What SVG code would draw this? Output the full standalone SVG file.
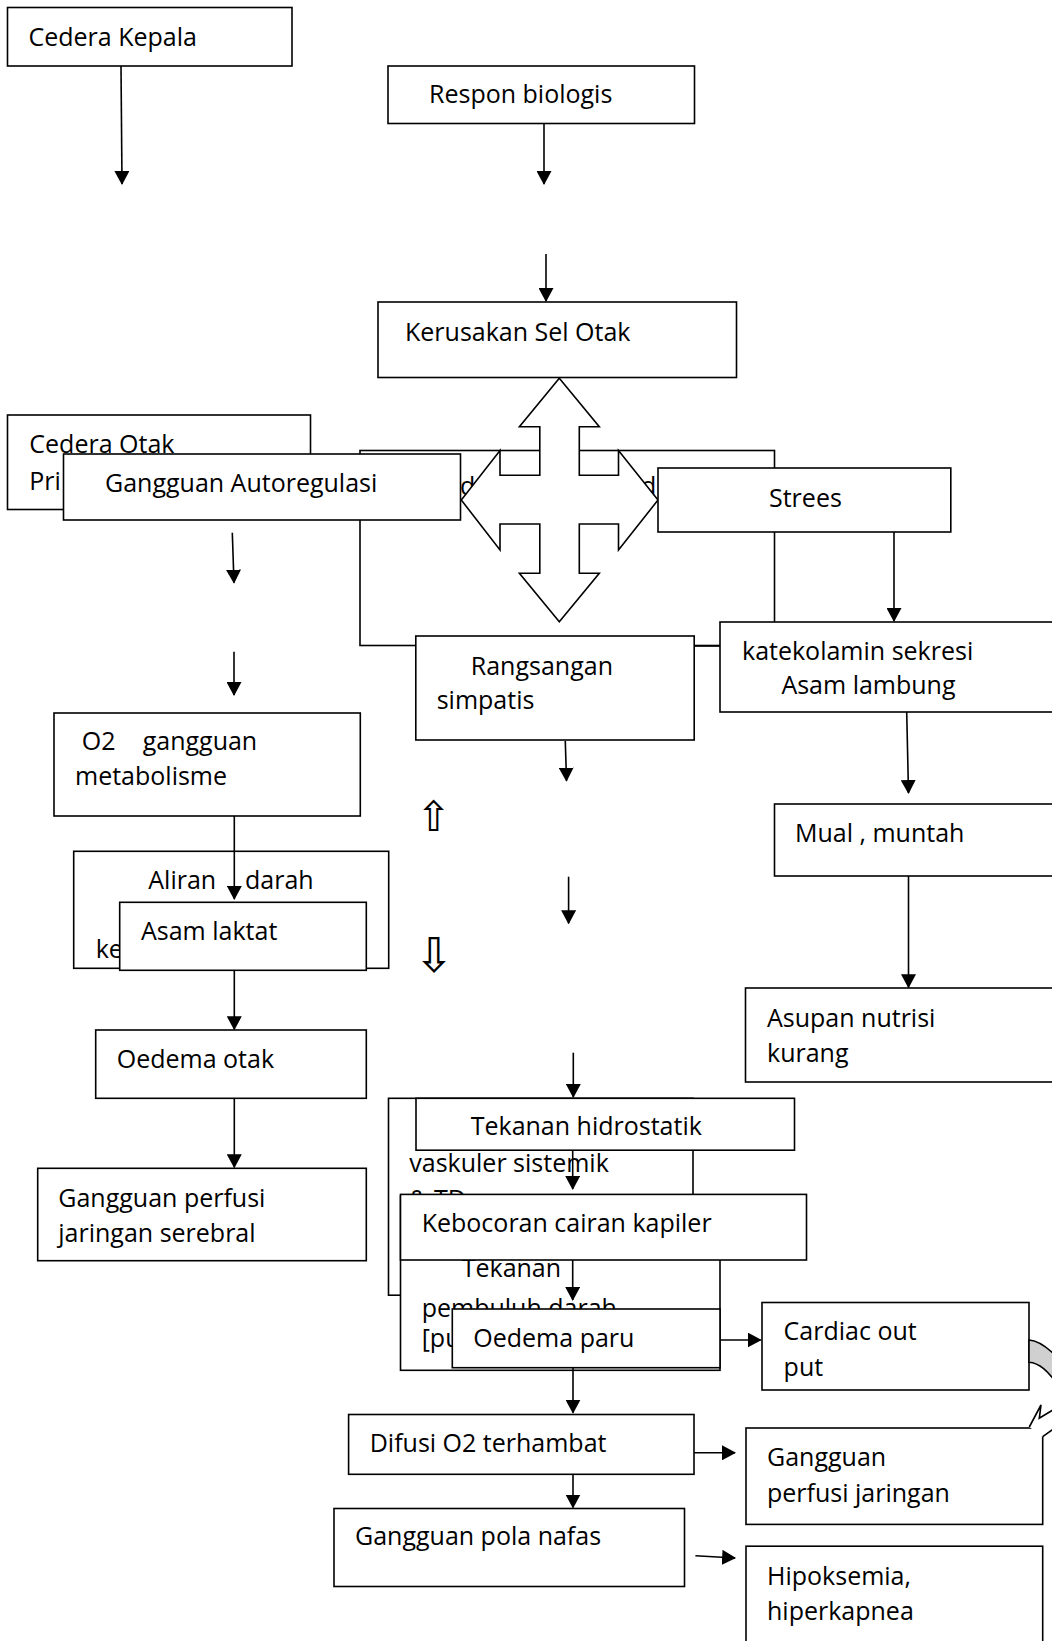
<svg xmlns="http://www.w3.org/2000/svg" width="1052" height="1641" viewBox="0 0 1052 1641">
<style>
.box{fill:#fff;stroke:#000;stroke-width:1.6}
.t{font-family:"Open Sans","Liberation Sans",sans-serif;font-size:25px;fill:#000}
.sym{font-family:"DejaVu Sans",sans-serif;fill:#000}
.c line{stroke:#000;stroke-width:1.6;marker-end:url(#ah)}
</style>
<defs>
<marker id="ah" markerUnits="userSpaceOnUse" markerWidth="14" markerHeight="15" refX="13" refY="7.5" orient="auto" viewBox="0 0 14 15">
<path d="M0,0 L14,7.5 L0,15 z" fill="#000"/>
</marker>
</defs>
<rect width="1052" height="1641" fill="#fff"/>

<g id="cedera-kepala"><rect class="box" x="7.5" y="7.5" width="284.5" height="58.5"/><text class="t" x="28.5" y="46">Cedera Kepala</text></g>
<g id="respon-biologis"><rect class="box" x="388" y="66" width="306.5" height="57.5"/><text class="t" x="429" y="103">Respon biologis</text></g>
<g id="kerusakan-sel-otak"><rect class="box" x="378" y="302" width="358.5" height="75.5"/><text class="t" x="405" y="341">Kerusakan Sel Otak</text></g>

<g id="hidden-box"><rect class="box" x="360" y="450.5" width="414.5" height="195"/>
<text class="t" y="495"><tspan x="460">de</tspan><tspan x="533">l</tspan><tspan x="602">l</tspan><tspan x="641">d</tspan></text></g>
<g id="cedera-otak-primer"><rect class="box" x="7.5" y="415" width="303" height="94.5"/><text class="t" x="29.3" y="453"><tspan x="29.3">Cedera Otak</tspan><tspan x="29.3" y="490">Pri</tspan></text></g>
<g id="gangguan-autoregulasi"><rect class="box" x="63.5" y="454" width="397" height="66"/><text class="t" x="105" y="492.3">Gangguan Autoregulasi</text></g>
<g id="cross-arrow"><polygon class="box" points="559.3,378.3 599.3,426.7 579.3,426.7 579.3,475.3 618.5,475.3 618.5,450.5 658,500 618.5,550 618.5,524 579.3,524 579.3,573.3 599.3,573.3 559.3,621.7 519.4,573.3 539.8,573.3 539.8,524 500,524 500,550 461.3,500 500,450.5 500,475.3 539.8,475.3 539.8,426.7 519.4,426.7"/></g>
<g id="strees"><rect class="box" x="658" y="468" width="292.8" height="64"/><text class="t" x="769" y="506.7">Strees</text></g>
<g id="rangsangan-simpatis"><rect class="box" x="415.8" y="636" width="278.4" height="104"/><text class="t"><tspan x="470.8" y="675">Rangsangan</tspan><tspan x="436.7" y="709.3">simpatis</tspan></text></g>
<g id="katekolamin"><line x1="694" y1="646" x2="720" y2="646" stroke="#000" stroke-width="1.6"/><rect class="box" x="720" y="622" width="345" height="90"/><text class="t"><tspan x="742" y="660">katekolamin sekresi</tspan><tspan x="781.4" y="694.3">Asam lambung</tspan></text></g>

<g id="o2-metabolisme"><rect class="box" x="54" y="713" width="306.3" height="103"/><text class="t"><tspan x="81.7" y="750">O2</tspan><tspan x="142.7" y="750">gangguan</tspan><tspan x="75" y="785">metabolisme</tspan></text></g>
<g id="aliran-darah"><rect class="box" x="73.7" y="851.3" width="315" height="117"/><text class="t"><tspan x="148.3" y="889.3">Aliran</tspan><tspan x="245" y="889.3">darah</tspan><tspan x="95.7" y="958.3">ke</tspan></text></g>
<g id="asam-laktat"><rect class="box" x="119.7" y="902.3" width="246.6" height="68"/><text class="t" x="141" y="940">Asam laktat</text></g>
<g id="oedema-otak"><rect class="box" x="95.7" y="1030" width="270.6" height="68.3"/><text class="t" x="116.7" y="1068.3">Oedema otak</text></g>
<g id="perfusi-serebral"><rect class="box" x="37.7" y="1168.3" width="328.6" height="92.4"/><text class="t"><tspan x="58.3" y="1206.7">Gangguan perfusi</tspan><tspan x="58.3" y="1241.7">jaringan serebral</tspan></text></g>

<g id="up-down-symbols"><text class="sym" font-size="42" x="416" y="831">⇧</text><text class="sym" font-size="48" x="414" y="972">⇩</text></g>

<g id="mual-muntah"><rect class="box" x="774.5" y="804" width="290" height="72"/><text class="t" x="795" y="841.7">Mual , muntah</text></g>
<g id="asupan-nutrisi"><rect class="box" x="745.5" y="988" width="320" height="94"/><text class="t"><tspan x="767" y="1026.7">Asupan nutrisi</tspan><tspan x="767" y="1061.7">kurang</tspan></text></g>

<g id="vaskuler-sistemik"><rect class="box" x="388.5" y="1098.3" width="304.5" height="196.9"/><text class="t"><tspan x="409.3" y="1171.7">vaskuler sistemik</tspan><tspan x="409.3" y="1208">&amp; TD</tspan></text></g>
<g id="tekanan-hidrostatik"><rect class="box" x="416" y="1098.3" width="378.5" height="51.9"/><text class="t" x="470.7" y="1135">Tekanan hidrostatik</text></g>
<g id="tekanan-pembuluh"><rect class="box" x="400.5" y="1196" width="319.5" height="174.3"/><text class="t"><tspan x="461.7" y="1276.7">Tekanan</tspan><tspan x="421.7" y="1316.7">pembuluh darah</tspan><tspan x="421.7" y="1346.7">[pu</tspan></text></g>
<g id="kebocoran"><rect class="box" x="400.5" y="1194.4" width="406" height="65.6"/><text class="t" x="421.7" y="1231.7">Kebocoran cairan kapiler</text></g>
<g id="oedema-paru"><rect class="box" x="452.3" y="1309" width="267.7" height="58.7"/><text class="t" x="473.3" y="1346.7">Oedema paru</text></g>
<g id="cardiac-output"><rect class="box" x="762" y="1302.5" width="267" height="87.5"/><text class="t"><tspan x="783.6" y="1340">Cardiac out</tspan><tspan x="783.6" y="1376">put</tspan></text></g>
<g id="difusi"><rect class="box" x="348.6" y="1414.5" width="345.4" height="59.8"/><text class="t" x="369.7" y="1452">Difusi O2 terhambat</text></g>
<g id="perfusi-jaringan"><rect class="box" x="746" y="1428" width="296.7" height="96.4"/><text class="t"><tspan x="767" y="1466.4">Gangguan</tspan><tspan x="767" y="1502">perfusi jaringan</tspan></text></g>
<g id="pola-nafas"><rect class="box" x="334" y="1508.5" width="350.5" height="78"/><text class="t" x="355" y="1545">Gangguan pola nafas</text></g>
<g id="hipoksemia"><rect class="box" x="746" y="1546.2" width="296.7" height="110"/><text class="t"><tspan x="767" y="1584.5">Hipoksemia,</tspan><tspan x="767" y="1620.2">hiperkapnea</tspan></text></g>

<g id="curved-arrow">
<path d="M1029,1340 C1036,1340.5 1045,1345 1056,1356 L1056,1382 C1048,1372 1040,1363 1029,1362.3 Z" fill="#d0d0d0" stroke="#000" stroke-width="1.6"/>
<path d="M1029.3,1427 L1041,1405 L1039.3,1418.3 L1056,1408 L1056,1427 L1042.7,1436.7" fill="#fff" stroke="#000" stroke-width="1.6"/>
</g>

<g class="c" id="connectors">
<line x1="121" y1="66" x2="122" y2="184"/>
<line x1="544" y1="124" x2="544" y2="184"/>
<line x1="546" y1="254" x2="546" y2="301"/>
<line x1="232.3" y1="532.7" x2="234" y2="582.7"/>
<line x1="234" y1="651.7" x2="234" y2="695"/>
<line x1="894" y1="532" x2="894" y2="621"/>
<line x1="906.7" y1="712" x2="908.5" y2="793"/>
<line x1="908.5" y1="876" x2="908.5" y2="987.3"/>
<line x1="565.3" y1="741" x2="566.5" y2="780.7"/>
<line x1="568.6" y1="876.7" x2="568.6" y2="923.3"/>
<line x1="573.3" y1="1052.7" x2="573.3" y2="1097"/>
<line x1="234.3" y1="816" x2="234.3" y2="899"/>
<line x1="234.3" y1="970.3" x2="234.3" y2="1029.3"/>
<line x1="234.3" y1="1098.3" x2="234.3" y2="1167.3"/>
<line x1="572.7" y1="1150.2" x2="572.7" y2="1189"/>
<line x1="572.7" y1="1260" x2="572.7" y2="1300"/>
<line x1="721" y1="1340" x2="760.7" y2="1340"/>
<line x1="573" y1="1368" x2="573" y2="1412.7"/>
<line x1="694" y1="1452.8" x2="735" y2="1452.8"/>
<line x1="573" y1="1474.3" x2="573" y2="1507.5"/>
<line x1="695.4" y1="1555.8" x2="735.1" y2="1558"/>
</g>
</svg>
